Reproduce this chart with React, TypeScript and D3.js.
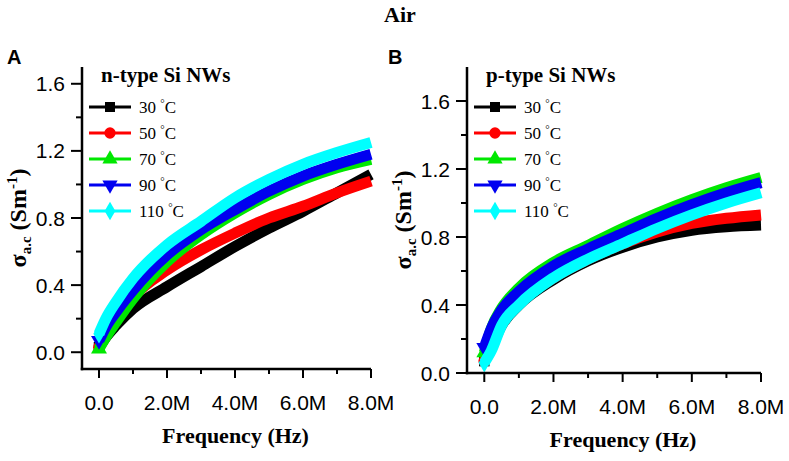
import React, { useEffect, useRef } from 'react';
import * as d3 from 'd3';

// frequency grid (MHz) shared by every series
const freqMHz = [0, 0.2, 0.5, 1, 2, 3, 4, 5, 6, 7, 8];
const temps = ['30', '50', '70', '90', '110'];
const colors = ['#000000', '#FF0000', '#00E800', '#0000F0', '#00FFFF'];

// panel A: n-type Si NWs
const n30 = [0.03, 0.09, 0.16, 0.26, 0.39, 0.51, 0.63, 0.74, 0.84, 0.95, 1.06];
const n50 = [0.03, 0.1, 0.2, 0.33, 0.49, 0.61, 0.71, 0.8, 0.87, 0.95, 1.02];
const n70 = [0.02, 0.09, 0.18, 0.32, 0.54, 0.7, 0.83, 0.94, 1.03, 1.1, 1.15];
const n90 = [0.07, 0.15, 0.24, 0.37, 0.58, 0.73, 0.85, 0.96, 1.05, 1.12, 1.18];
const n110 = [0.11, 0.2, 0.3, 0.44, 0.64, 0.78, 0.92, 1.03, 1.12, 1.19, 1.25];

// panel B: p-type Si NWs
const p30 = [0.07, 0.15, 0.28, 0.4, 0.55, 0.66, 0.74, 0.8, 0.84, 0.86, 0.87];
const p50 = [0.07, 0.15, 0.29, 0.41, 0.56, 0.67, 0.76, 0.83, 0.88, 0.91, 0.93];
const p70 = [0.12, 0.26, 0.38, 0.5, 0.65, 0.75, 0.85, 0.94, 1.02, 1.09, 1.15];
const p90 = [0.15, 0.26, 0.37, 0.48, 0.63, 0.73, 0.82, 0.91, 0.99, 1.06, 1.12];
const p110 = [0.06, 0.13, 0.28, 0.4, 0.56, 0.67, 0.76, 0.85, 0.93, 1.0, 1.06];

const xMajor = [0, 2, 4, 6, 8];
const xMinor = [1, 3, 5, 7];
const yMajor = [0, 0.4, 0.8, 1.2, 1.6];
const yMinor = [0.2, 0.6, 1.0, 1.4];

const SANS = '"Liberation Sans", Arial, sans-serif';
const SERIF = '"Liberation Serif", "Times New Roman", serif';

interface Panel {
  letter: string;
  legendTitle: string;
  series: number[][];
  box: { left: number; right: number; top: number; bottom: number; letterX: number };
  yDomain: [number, number];
}

const panels: Panel[] = [
  {
    letter: 'A',
    legendTitle: 'n-type Si NWs',
    series: [n30, n50, n70, n90, n110],
    box: { left: 82, right: 371, top: 67, bottom: 369, letterX: 7 },
    yDomain: [-0.1, 1.7],
  },
  {
    letter: 'B',
    legendTitle: 'p-type Si NWs',
    series: [p30, p50, p70, p90, p110],
    box: { left: 467, right: 761, top: 67, bottom: 373, letterX: 388 },
    yDomain: [0, 1.8],
  },
];

const symbolFor = (i: number) =>
  [d3.symbolSquare, d3.symbolCircle, d3.symbolTriangle, d3.symbolTriangle, d3.symbolDiamond][i];

export default function App() {
  const svgRef = useRef<SVGSVGElement>(null);

  useEffect(() => {
    if (!svgRef.current) return;
    const svg = d3.select(svgRef.current);
    svg.selectAll('*').remove();

    // overall title
    svg
      .append('text')
      .attr('x', 400)
      .attr('y', 22)
      .attr('text-anchor', 'middle')
      .attr('font-family', SERIF)
      .attr('font-weight', 'bold')
      .attr('font-size', 22)
      .text('Air');

    panels.forEach((p) => {
      const { left, right, top, bottom, letterX } = p.box;
      const x = d3.scaleLinear().domain([-0.5, 8]).range([left, right]);
      const y = d3.scaleLinear().domain(p.yDomain).range([bottom, top]);
      const g = svg.append('g');

      // panel letter
      g.append('text')
        .attr('x', letterX)
        .attr('y', 64)
        .attr('font-family', SANS)
        .attr('font-weight', 'bold')
        .attr('font-size', 20)
        .text(p.letter);

      // curves (drawn 30 -> 110 so cyan sits on top)
      const line = d3
        .line<number>()
        .x((_, i) => x(freqMHz[i]))
        .y((d) => y(d))
        .curve(d3.curveMonotoneX);

      p.series.forEach((vals, si) => {
        g.append('path')
          .attr('d', line(vals))
          .attr('fill', 'none')
          .attr('stroke', colors[si])
          .attr('stroke-width', 11)
          .attr('stroke-linejoin', 'round')
          .attr('stroke-linecap', 'butt');
        g.append('path')
          .attr('d', d3.symbol(symbolFor(si), 110)())
          .attr('transform', `translate(${x(freqMHz[0])},${y(vals[0])})${si === 3 ? ' rotate(180)' : ''}`)
          .attr('fill', colors[si]);
      });

      // axes
      g.append('line')
        .attr('x1', left)
        .attr('x2', left)
        .attr('y1', top)
        .attr('y2', bottom + 1.25)
        .attr('stroke', '#000')
        .attr('stroke-width', 2.5);
      g.append('line')
        .attr('x1', left - 1.25)
        .attr('x2', right)
        .attr('y1', bottom)
        .attr('y2', bottom)
        .attr('stroke', '#000')
        .attr('stroke-width', 2.5);

      yMajor.forEach((v) => {
        g.append('line')
          .attr('x1', left - 11)
          .attr('x2', left)
          .attr('y1', y(v))
          .attr('y2', y(v))
          .attr('stroke', '#000')
          .attr('stroke-width', 2);
        g.append('text')
          .attr('x', left - 17)
          .attr('y', y(v))
          .attr('dy', '0.36em')
          .attr('text-anchor', 'end')
          .attr('font-family', SANS)
          .attr('font-size', 21)
          .text(d3.format('.1f')(v));
      });
      yMinor.forEach((v) => {
        g.append('line')
          .attr('x1', left - 6)
          .attr('x2', left)
          .attr('y1', y(v))
          .attr('y2', y(v))
          .attr('stroke', '#000')
          .attr('stroke-width', 2);
      });

      xMajor.forEach((v) => {
        g.append('line')
          .attr('x1', x(v))
          .attr('x2', x(v))
          .attr('y1', bottom)
          .attr('y2', bottom + 9)
          .attr('stroke', '#000')
          .attr('stroke-width', 2);
        g.append('text')
          .attr('x', x(v))
          .attr('y', bottom + 41)
          .attr('text-anchor', 'middle')
          .attr('font-family', SANS)
          .attr('font-size', 21)
          .text(v === 0 ? '0.0' : `${v.toFixed(1)}M`);
      });
      xMinor.forEach((v) => {
        g.append('line')
          .attr('x1', x(v))
          .attr('x2', x(v))
          .attr('y1', bottom)
          .attr('y2', bottom + 5)
          .attr('stroke', '#000')
          .attr('stroke-width', 2);
      });

      // axis titles
      g.append('text')
        .attr('x', (left + right) / 2 + 9)
        .attr('y', bottom + 74)
        .attr('text-anchor', 'middle')
        .attr('font-family', SERIF)
        .attr('font-weight', 'bold')
        .attr('font-size', 22)
        .text('Frequency (Hz)');

      const yt = g
        .append('text')
        .attr('transform', `translate(${left - 56},${(top + bottom) / 2}) rotate(-90)`)
        .attr('text-anchor', 'middle')
        .attr('font-family', SERIF)
        .attr('font-weight', 'bold')
        .attr('font-size', 24);
      yt.append('tspan').text('σ');
      yt.append('tspan').attr('font-size', 15).attr('dy', 5).text('a.c');
      yt.append('tspan').attr('dy', -5).text(' (Sm');
      yt.append('tspan').attr('font-size', 15).attr('dy', -9).text('-1');
      yt.append('tspan').attr('dy', 9).text(')');

      // legend
      g.append('text')
        .attr('x', left + 19)
        .attr('y', 82)
        .attr('font-family', SERIF)
        .attr('font-weight', 'bold')
        .attr('font-size', 21)
        .text(p.legendTitle);

      temps.forEach((t, i) => {
        const ly = 107 + i * 26;
        const lx0 = left + 7;
        const lx1 = left + 49;
        g.append('line')
          .attr('x1', lx0)
          .attr('x2', lx1)
          .attr('y1', ly)
          .attr('y2', ly)
          .attr('stroke', colors[i])
          .attr('stroke-width', 3);
        g.append('path')
          .attr('d', d3.symbol(symbolFor(i), 100)())
          .attr('transform', `translate(${(lx0 + lx1) / 2},${ly})${i === 3 ? ' rotate(180)' : ''}`)
          .attr('fill', colors[i]);
        const lt = g
          .append('text')
          .attr('x', lx1 + 8)
          .attr('y', ly + 6)
          .attr('font-family', SERIF)
          .attr('font-size', 17);
        lt.append('tspan').text(`${t} `);
        lt.append('tspan').attr('font-size', 11).attr('dy', -6).text('°');
        lt.append('tspan').attr('dy', 6).text('C');
      });
    });
  }, []);

  return (
    <svg
      ref={svgRef}
      width={789}
      height={461}
      style={{ position: 'absolute', left: 0, top: 0, background: '#fff' }}
    />
  );
}
